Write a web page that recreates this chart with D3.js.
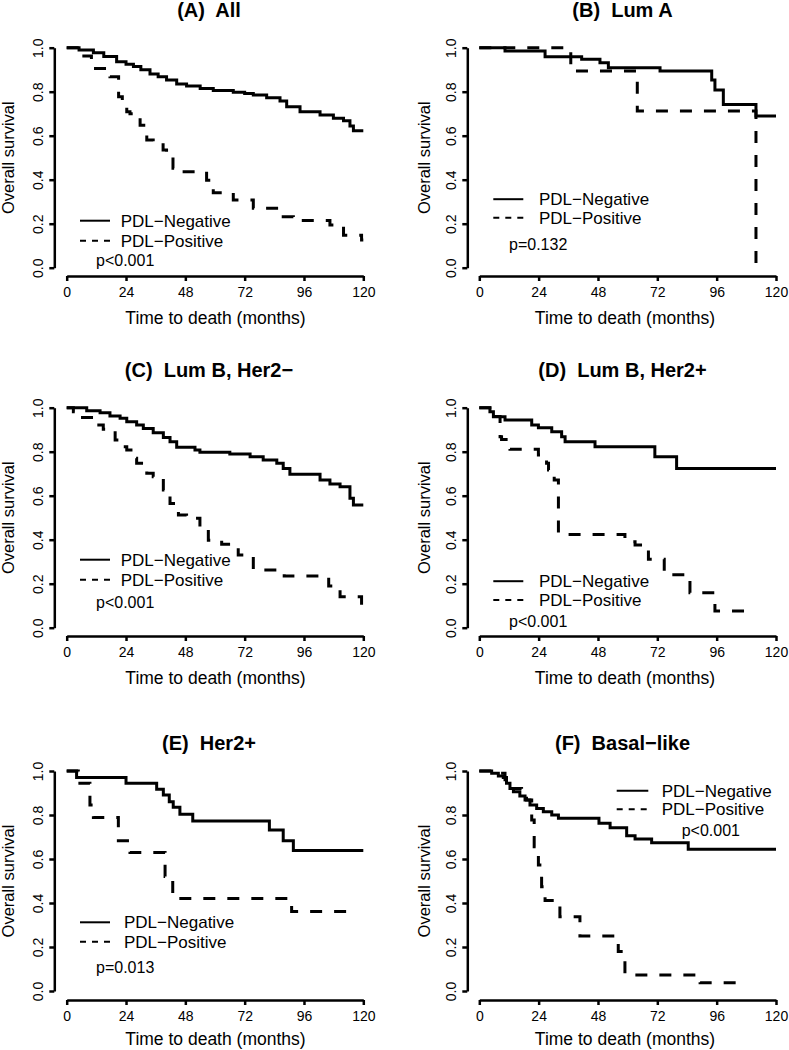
<!DOCTYPE html>
<html>
<head>
<meta charset="utf-8">
<script src="https://cdn.jsdelivr.net/npm/d3@7/dist/d3.min.js"></script>
<style>
  html, body { margin: 0; padding: 0; background: #fff; }
  svg { display: block; }
</style>
</head>
<body>
<script>
// ---------------- DATA ----------------
const panelTitles = ["(A)  All", "(B)  Lum A", "(C)  Lum B, Her2\u2212", "(D)  Lum B, Her2+", "(E)  Her2+", "(F)  Basal\u2212like"];
const seriesNames = ["PDL\u2212Negative", "PDL\u2212Positive"];
const pValues = ["p<0.001", "p=0.132", "p<0.001", "p<0.001", "p=0.013", "p<0.001"];
const xTickValues = [0, 24, 48, 72, 96, 120];
const yTickValues = [0, 0.2, 0.4, 0.6, 0.8, 1.0];
const xAxisTitle = "Time to death (months)";
const yAxisTitle = "Overall survival";

// [time (months), survival] step points
const aNeg = [[0,1],[5,0.99],[10.8,0.977],[15,0.96],[20.2,0.936],[24,0.925],[27,0.914],[30,0.9],[33.7,0.88],[37,0.868],[40.4,0.853],[44.5,0.835],[48.5,0.826],[54,0.815],[59.3,0.806],[67.4,0.797],[72,0.792],[75.5,0.785],[80.9,0.773],[86.3,0.758],[89,0.732],[94.4,0.709],[102.5,0.694],[107.9,0.679],[112,0.668],[114.6,0.644],[116,0.623],[120,0.623]];
const aPos = [[0,1],[5.4,0.962],[10,0.906],[17.5,0.868],[21,0.777],[22.5,0.74],[24.3,0.709],[25.6,0.7],[29.7,0.648],[32.4,0.58],[35,0.573],[39,0.535],[40.4,0.512],[43,0.452],[44.5,0.436],[56.6,0.398],[59.3,0.341],[67.4,0.308],[75.5,0.27],[87.6,0.232],[91.7,0.214],[106.5,0.194],[112,0.148],[119.3,0.126],[120,0.126]];
const bNeg = [[0,1],[10.4,0.985],[26.6,0.959],[41.4,0.947],[48.8,0.932],[52.2,0.909],[73.1,0.894],[94,0.853],[95.3,0.808],[98.7,0.742],[111.9,0.689],[120,0.689]];
const bPos = [[0,1],[37,0.894],[63.9,0.712],[111.9,0]];
const cNeg = [[0,1],[8.1,0.986],[13.5,0.977],[17.5,0.962],[21.6,0.952],[24.3,0.936],[28.3,0.921],[31,0.906],[35,0.886],[39.1,0.865],[41.8,0.845],[44.5,0.82],[51.9,0.808],[53.9,0.797],[66,0.789],[74.2,0.777],[79.5,0.762],[85,0.747],[87.6,0.724],[90.3,0.698],[102.5,0.671],[106.5,0.653],[110.6,0.641],[114.6,0.588],[116,0.558],[120,0.558]];
const cPos = [[0,1],[2.7,0.982],[5.4,0.956],[12.1,0.921],[14.8,0.902],[19.6,0.853],[22.9,0.823],[24.3,0.808],[27,0.77],[28.3,0.747],[32.4,0.702],[35,0.686],[39.1,0.626],[41.8,0.565],[45.2,0.512],[48.5,0.497],[53.9,0.452],[57.3,0.398],[62.7,0.379],[69.4,0.33],[75.5,0.262],[88,0.235],[106,0.189],[110.6,0.141],[119.3,0.1],[120,0.1]];
const dNeg = [[0,1],[4.3,0.982],[5.7,0.959],[10.4,0.944],[21.2,0.921],[23.9,0.909],[29.3,0.891],[33.3,0.868],[34.7,0.845],[46.8,0.823],[71,0.777],[79.8,0.724],[120,0.724]];
const dPos = [[0,1],[5,0.96],[8.4,0.868],[9,0.856],[12.4,0.811],[23.9,0.785],[27.2,0.747],[28,0.717],[30.3,0.671],[32,0.424],[58.9,0.391],[63,0.376],[68.4,0.311],[74.8,0.241],[85.2,0.159],[95.3,0.076],[110.2,0.076]];
const eNeg = [[0,1],[4,0.971],[24,0.944],[36.4,0.917],[39.1,0.891],[41.5,0.86],[43.1,0.835],[45.8,0.803],[51,0.773],[82,0.732],[87.6,0.683],[91.7,0.639],[120,0.639]];
const ePos = [[0,1],[4.7,0.944],[9.4,0.845],[10.8,0.789],[20.9,0.683],[25.6,0.63],[39.8,0.52],[42.9,0.421],[91,0.361],[116,0.361]];
const fNeg = [[0,1],[5,0.99],[7.7,0.977],[9.7,0.971],[11,0.944],[12.4,0.921],[13.8,0.906],[16.4,0.886],[18.5,0.868],[20.5,0.845],[23.2,0.83],[25.9,0.815],[29.3,0.8],[32,0.785],[48.4,0.762],[52.9,0.742],[59.6,0.706],[63,0.691],[69.7,0.674],[84.5,0.644],[120,0.644]];
const fPos = [[0,1],[5,0.99],[10.4,0.95],[11.7,0.921],[17.1,0.876],[19.1,0.868],[21.2,0.777],[22.2,0.656],[23.9,0.573],[25.2,0.474],[26.6,0.411],[32.6,0.338],[40.7,0.25],[56.2,0.179],[58.9,0.073],[89.3,0.038],[106.8,0.038]];

const negSeries = [aNeg, bNeg, cNeg, dNeg, eNeg, fNeg];
const posSeries = [aPos, bPos, cPos, dPos, ePos, fPos];

// ---------------- LAYOUT ----------------
const FONT = '"Liberation Sans", Arial, Helvetica, sans-serif';
const cols = [
  { x0: 66.7, x1: 363.3, axisX: 54.3, yTitleX: 13.5, titleX: 209, xTitleX: 215.5 },
  { x0: 479.3, x1: 776, axisX: 467.3, yTitleX: 430, titleX: 622.5, xTitleX: 625 }
];
const rows = [
  { y1: 47.7, y0: 267.7, axisY: 276, titleY: 17, xTitleOff: 48 },
  { y1: 407.7, y0: 627.7, axisY: 636, titleY: 377, xTitleOff: 48 },
  { y1: 771, y0: 991, axisY: 1000, titleY: 750, xTitleOff: 45 }
];
const legends = [
  { lx1: 80, lx2: 110, tx: 120.7, r1: 220.7, r2: 240.7, px: 96, py: 260.7 },
  { lx1: 493.3, lx2: 523.3, tx: 539, r1: 199.2, r2: 217.8, px: 509, py: 244 },
  { lx1: 80, lx2: 110, tx: 120.7, r1: 559.7, r2: 579.7, px: 96, py: 602.3 },
  { lx1: 493.3, lx2: 523.3, tx: 539, r1: 581.2, r2: 600, px: 509, py: 621.7 },
  { lx1: 80, lx2: 110, tx: 124, r1: 922.3, r2: 941.7, px: 96, py: 967.3 },
  { lx1: 616.7, lx2: 648.3, tx: 661.7, r1: 790.7, r2: 809.3, px: 681.7, py: 830.7 }
];

const svg = d3.select("body").append("svg")
  .attr("width", 789).attr("height", 1050)
  .style("font-family", FONT);

svg.append("rect").attr("width", 789).attr("height", 1050).attr("fill", "#fff");

panelTitles.forEach((title, i) => {
  const c = cols[i % 2], r = rows[Math.floor(i / 2)], L = legends[i];
  const x = d3.scaleLinear().domain([0, 120]).range([c.x0, c.x1]);
  const y = d3.scaleLinear().domain([0, 1]).range([r.y0, r.y1]);
  const g = svg.append("g");

  // x axis
  const xa = g.append("g")
    .attr("transform", `translate(0,${r.axisY})`)
    .call(d3.axisBottom(x).tickValues(xTickValues).tickSize(5).tickSizeOuter(0).tickPadding(6).tickFormat(d3.format("d")));
  // y axis
  const ya = g.append("g")
    .attr("transform", `translate(${c.axisX},0)`)
    .call(d3.axisLeft(y).tickValues(yTickValues).tickSize(5).tickSizeOuter(0).tickFormat(d3.format(".1f")));
  ya.selectAll(".tick text")
    .attr("transform", "rotate(-90)")
    .attr("x", 0).attr("y", -11).attr("dy", null)
    .attr("text-anchor", "middle");
  [xa, ya].forEach(a => {
    a.attr("font-family", FONT).attr("font-size", 14);
    a.selectAll("path.domain").attr("stroke", "#000").attr("stroke-width", 2.5);
    a.selectAll(".tick line").attr("stroke", "#000").attr("stroke-width", 2.5);
    a.selectAll(".tick text").attr("fill", "#000");
  });

  // curves
  const line = d3.line().x(d => x(d[0])).y(d => y(d[1])).curve(d3.curveStepAfter);
  g.append("path").datum(negSeries[i]).attr("d", line)
    .attr("fill", "none").attr("stroke", "#000").attr("stroke-width", 3);
  g.append("path").datum(posSeries[i]).attr("d", line)
    .attr("fill", "none").attr("stroke", "#000").attr("stroke-width", 3)
    .attr("stroke-dasharray", "12,12");

  // titles
  g.append("text").attr("x", c.titleX).attr("y", r.titleY)
    .attr("text-anchor", "middle").attr("font-weight", "bold").attr("font-size", 20)
    .style("white-space", "pre").text(title);
  g.append("text").attr("x", c.xTitleX).attr("y", r.axisY + r.xTitleOff)
    .attr("text-anchor", "middle").attr("font-size", 17.5).text(xAxisTitle);
  g.append("text")
    .attr("transform", `translate(${c.yTitleX},${(r.y0 + r.y1) / 2}) rotate(-90)`)
    .attr("text-anchor", "middle").attr("font-size", 16.5).text(yAxisTitle);

  // legend
  g.append("line").attr("x1", L.lx1).attr("x2", L.lx2).attr("y1", L.r1).attr("y2", L.r1)
    .attr("stroke", "#000").attr("stroke-width", 2);
  g.append("line").attr("x1", L.lx1).attr("x2", L.lx2).attr("y1", L.r2).attr("y2", L.r2)
    .attr("stroke", "#000").attr("stroke-width", 2).attr("stroke-dasharray", "6,6");
  g.append("text").attr("x", L.tx).attr("y", L.r1).attr("dy", "0.36em")
    .attr("font-size", 17).text(seriesNames[0]);
  g.append("text").attr("x", L.tx).attr("y", L.r2).attr("dy", "0.36em")
    .attr("font-size", 17).text(seriesNames[1]);
  g.append("text").attr("x", L.px).attr("y", L.py).attr("dy", "0.36em")
    .attr("font-size", 16).text(pValues[i]);
});
</script>
</body>
</html>
